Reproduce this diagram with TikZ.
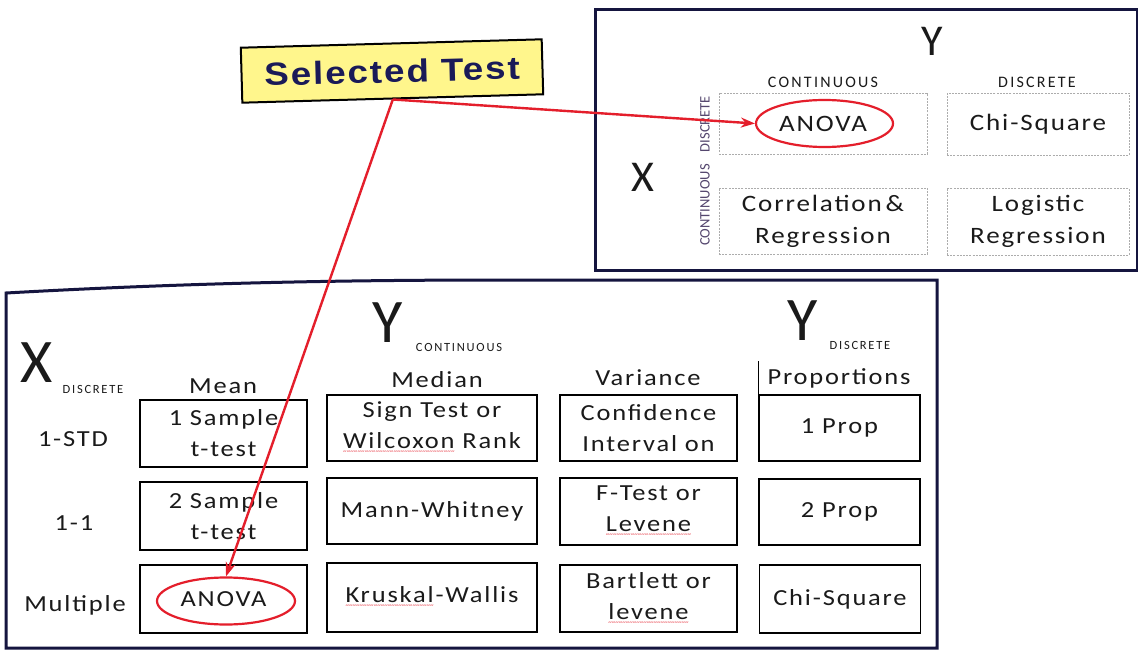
\documentclass[tikz,border=0pt]{standalone}
\usepackage{fontspec}
\usetikzlibrary{shapes.geometric,arrows.meta}
\setmainfont{Carlito}
\newfontfamily\cellfont[FakeStretch=1.15,LetterSpace=8]{Carlito}
\newfontfamily\capsfont[LetterSpace=14]{Carlito}
\newfontfamily\sidefont{Carlito}
\newfontfamily\titlefont[FakeStretch=1.15,LetterSpace=6]{Liberation Sans}
\newfontfamily\wavefont{Carlito}
\definecolor{frameblue}{HTML}{15153F}
\definecolor{ink}{HTML}{1A1A1A}
\definecolor{testyellow}{HTML}{FFF68C}
\definecolor{titleblue}{HTML}{1A1A58}
\definecolor{hired}{HTML}{E41E2B}
\definecolor{sidelbl}{HTML}{54466E}
% red wavy underline for spell-flagged words
\newsavebox\wavebox
\newcommand\redwave[1]{\sbox\wavebox{#1}%
  \rlap{\raisebox{-5pt}{\hbox to \wd\wavebox{\color{hired}\wavefont\fontsize{7}{7}\selectfont
  \xleaders\hbox{\textasciitilde}\hfill}}}#1}

\begin{document}
\begin{tikzpicture}[x=1pt,y=-1pt,
  frame/.style={draw=frameblue, line width=3pt},
  cell/.style={draw=black, line width=1.3pt, inner sep=0pt, align=center,
    font=\cellfont\fontsize{23}{31}\selectfont, text=ink},
  colM/.style={cell, minimum width=167pt, minimum height=67pt},
  colD/.style={cell, minimum width=210pt, minimum height=66pt},
  colV/.style={cell, minimum width=177pt, minimum height=66pt},
  colP/.style={cell, minimum width=161pt, minimum height=66pt},
  gridcell/.style={draw=gray!65, dash pattern=on 2pt off 1.2pt, line width=0.7pt,
    inner sep=0pt, align=center, font=\cellfont\fontsize{23.5}{32}\selectfont, text=ink},
  head/.style={font=\cellfont\fontsize{23}{28}\selectfont, text=ink, inner sep=0pt},
  bigletter/.style={font=\fontsize{62}{62}\selectfont, text=ink, inner sep=0pt},
  midletter/.style={font=\fontsize{44}{44}\selectfont, text=ink, inner sep=0pt},
  tinycaps/.style={font=\capsfont\fontsize{12.5}{13}\selectfont, text=ink, inner sep=0pt},
  smallcaps/.style={font=\capsfont\fontsize{16}{17}\selectfont, text=ink, inner sep=0pt},
  sidecaps/.style={font=\sidefont\fontsize{14.5}{15}\selectfont, text=sidelbl, inner sep=0pt, rotate=90},
  hilite/.style={ellipse, draw=hired, line width=2.2pt, inner sep=0pt},
  pointer/.style={draw=hired, line width=2.4pt, -{Stealth[length=14pt,width=10pt]}}
]
\useasboundingbox (0,0) rectangle (1138,650);
\fill[white] (0,0) rectangle (1138,650);

% ---------- upper panel: 2x2 choice grid ----------
\draw[frame] (595,10) rectangle (1137,270);
\node[midletter] (yTop) at (932,41) {Y};
\node[midletter] (xTop) at (643,177) {X};
\node[smallcaps] (hCont) at (823,82) {CONTINUOUS};
\node[smallcaps] (hDisc) at (1037,82) {DISCRETE};
\node[sidecaps] (vDisc) at (705,124) {DISCRETE};
\node[sidecaps] (vCont) at (705,205) {CONTINUOUS};

\node[gridcell, minimum width=208pt, minimum height=61pt] (tA) at (823,123.5) {ANOVA};
\node[gridcell, minimum width=182pt, minimum height=62pt] (tB) at (1038,124) {Chi-Square};
\node[gridcell, minimum width=208pt, minimum height=66pt] (tC) at (823,221) {Correlation\,\&\\Regression};
\node[gridcell, minimum width=182pt, minimum height=67pt] (tD) at (1038,221.5) {Logistic\\Regression};
\node[hilite, minimum width=137pt, minimum height=47pt] (eTop) at (824.5,123.5) {};

% ---------- lower panel: test table ----------
\draw[frame] (6,648) -- (6,293) .. controls (150,285) and (300,280) .. (500,280) -- (937,280) -- (937,648) -- cycle;

\node[bigletter] (xBig) at (37,363) {X};
\node[tinycaps] (xDisc) at (93,389) {DISCRETE};
\node[bigletter] (yCont) at (388,323) {Y};
\node[tinycaps] (yContLbl) at (459,347) {CONTINUOUS};
\node[bigletter] (yDisc) at (803,321) {Y};
\node[tinycaps] (yDiscLbl) at (860,345) {DISCRETE};

\node[head] (hMean) at (223,386) {Mean};
\node[head] (hMedian) at (437,380) {Median};
\node[head] (hVar) at (648,378) {Variance};
\node[head] (hProp) at (839,378) {Proportions};

\node[head] (r1) at (73,439) {1-STD};
\node[head] (r2) at (74,523) {1-1};
\node[head] (r3) at (75,605) {Multiple};

\node[colM] (m1) at (223.5,433.5) {1 Sample\\t-test};
\node[colM, minimum height=68pt] (m2) at (223.5,516) {2 Sample\\t-test};
\node[colM, minimum height=68pt] (m3) at (223.5,599) {ANOVA};

\node[colD] (d1) at (432,428) {Sign Test or\\\redwave{Wilcoxon} Rank};
\node[colD] (d2) at (432,511) {Mann-Whitney};
\node[colD, minimum height=69pt] (d3) at (432,597.5) {\redwave{Kruskal}-Wallis};

\node[colV] (v1) at (648.5,428) {Confidence\\Interval on};
\node[colV, minimum height=67pt] (v2) at (648.5,511.5) {F-Test or\\\redwave{Levene}};
\node[colV, minimum height=67pt] (v3) at (648.5,598.5) {Bartlett or\\\redwave{levene}};

\node[colP] (p1) at (839.5,428) {1 Prop};
\node[colP] (p2) at (839.5,512) {2 Prop};
\node[colP, minimum height=68pt] (p3) at (840,599) {Chi-Square};
\draw[line width=1.3pt] (p1.north west) -- ++(0,-33);

\node[hilite, minimum width=138pt, minimum height=47pt] (eLow) at (226,601) {};

% ---------- selected test callout ----------
\node[draw=black, line width=2pt, fill=testyellow, minimum width=301pt, minimum height=55pt,
  inner sep=0pt, rotate=1.6, text=titleblue, font=\titlefont\bfseries\fontsize{32}{34}\selectfont]
  (sel) at (392,71) {Selected Test};

\draw[pointer] (sel.south) -- (eTop.west);
\draw[pointer] (sel.south) -- (eLow.north);
\end{tikzpicture}
\end{document}
